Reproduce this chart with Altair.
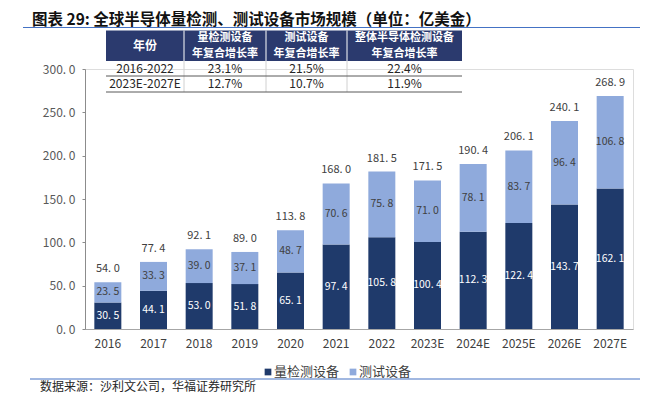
import altair as alt
import pandas as pd

# ---------------- data ----------------
years = ["2016", "2017", "2018", "2019", "2020", "2021", "2022",
         "2023E", "2024E", "2025E", "2026E", "2027E"]
inspection = [30.5, 44.1, 53.0, 51.8, 65.1, 97.4, 105.8, 100.4, 112.3, 122.4, 143.7, 162.1]
testing = [23.5, 33.3, 39.0, 37.1, 48.7, 70.6, 75.8, 71.0, 78.1, 83.7, 96.4, 106.8]
totals = [54.0, 77.4, 92.1, 89.0, 113.8, 168.0, 181.5, 171.5, 190.4, 206.1, 240.1, 268.9]
series_names = ["量检测设备", "测试设备"]
y_ticks = [0, 50, 100, 150, 200, 250, 300]

title_text = "图表 29:  全球半导体量检测、测试设备市场规模（单位：亿美金）"
source_text = "数据来源：沙利文公司，华福证券研究所"
table_header = [["年份"], ["量检测设备", "年复合增长率"], ["测试设备", "年复合增长率"],
                ["整体半导体检测设备", "年复合增长率"]]
table_rows = [["2016-2022", "23.1%", "21.5%", "22.4%"],
              ["2023E-2027E", "12.7%", "10.7%", "11.9%"]]

# ---------------- styles / layout ----------------
DARK = "#1F3A6B"
LIGHT = "#8FAADC"
HEADER = "#2B3A6E"
BLUE_LINE = "#4472C4"
FONT = "Noto Sans CJK SC"
W, H = 548, 260
col_edges = [21, 99, 181, 262, 377]
tbl_top, hdr_bottom, row_bottoms = -38.5, -8, [7, 23]
row_centers = [-0.5, 15]
hdr_lines = [-31, -15.5]


def fmt(v):
    return f"{v:.1f}".replace(".", ". ")


rows = []
for yr, a, b, t in zip(years, inspection, testing, totals):
    rows.append(dict(year=yr, series=series_names[0], y0=0, y1=a, mid=a / 2, label=fmt(a)))
    rows.append(dict(year=yr, series=series_names[1], y0=a, y1=a + b, mid=a + b / 2, label=fmt(b)))
seg = pd.DataFrame(rows)
tot = pd.DataFrame(dict(year=years, top=[a + b for a, b in zip(inspection, testing)],
                        label=[fmt(t) for t in totals]))

xenc = alt.X("year:N", sort=years,
             scale=alt.Scale(paddingInner=0, paddingOuter=0),
             axis=alt.Axis(title=None, ticks=False, labelAngle=0, labelPadding=9,
                           labelFontSize=12, labelColor="#404040", labelFont=FONT,
                           domainColor="#a6a6a6"))
yscale = alt.Scale(domain=[0, 300], nice=False)

bars = alt.Chart(seg).mark_bar(size=27).encode(
    x=xenc,
    y=alt.Y("y1:Q", scale=yscale,
            axis=alt.Axis(values=y_ticks, title=None, grid=False, tickSize=3,
                          labelExpr="replace(format(datum.value, '.1f'), '.', '. ')",
                          labelFontSize=12, labelColor="#595959", labelFont=FONT,
                          labelPadding=7, domainColor="#8c8c8c", tickColor="#8c8c8c")),
    y2="y0",
    color=alt.Color("series:N", scale=alt.Scale(domain=series_names, range=[DARK, LIGHT]),
                    legend=None),
)

lab_dark = alt.Chart(seg).transform_filter(
    alt.datum.series == series_names[0]
).mark_text(fontSize=10.5, font=FONT, color="white", baseline="middle").encode(
    x=alt.X("year:N", sort=years), y=alt.Y("mid:Q", scale=yscale), text="label:N")

lab_light = alt.Chart(seg).transform_filter(
    alt.datum.series == series_names[1]
).mark_text(fontSize=10.5, font=FONT, color="#404040", baseline="middle").encode(
    x=alt.X("year:N", sort=years), y=alt.Y("mid:Q", scale=yscale), text="label:N")

lab_tot = alt.Chart(tot).mark_text(fontSize=11, font=FONT, color="#404040",
                                   baseline="middle", dy=-13).encode(
    x=alt.X("year:N", sort=years), y=alt.Y("top:Q", scale=yscale), text="label:N")

one = pd.DataFrame({"k": [0]})
layers = [bars, lab_dark, lab_light, lab_tot]


def txt(s, x, y, **kw):
    return alt.Chart(one).mark_text(font=FONT, baseline="middle", **kw).encode(
        x=alt.value(x), y=alt.value(y), text=alt.value(s))


def rule(x1, x2, y1, y2, color, width=1):
    return alt.Chart(one).mark_rule(color=color, strokeWidth=width).encode(
        x=alt.value(x1), x2=alt.value(x2), y=alt.value(y1), y2=alt.value(y2))


# title and top line
layers.append(txt(title_text, -53, -49.5, fontSize=15.5, fontWeight="bold", color="#111111", align="left"))
layers.append(rule(-62, 555, -41.5, -41.5, BLUE_LINE, 1.2))

# table
layers.append(alt.Chart(one).mark_rect(color=HEADER).encode(
    x=alt.value(col_edges[0]), x2=alt.value(col_edges[-1]),
    y=alt.value(tbl_top), y2=alt.value(hdr_bottom)))
for xe in col_edges[1:-1]:
    layers.append(rule(xe, xe, tbl_top, hdr_bottom, "white", 1))
    layers.append(rule(xe, xe, hdr_bottom, row_bottoms[-1], "#d0d0d0", 1))
for yb in row_bottoms:
    layers.append(rule(col_edges[0], col_edges[-1], yb, yb, "#595959", 1))
for i, h in enumerate(table_header):
    cx = (col_edges[i] + col_edges[i + 1]) / 2
    if len(h) == 1:
        layers.append(txt(h[0], cx, (tbl_top + hdr_bottom) / 2, fontSize=12, fontWeight="bold",
                          color="white", align="center"))
    else:
        for line, yy in zip(h, hdr_lines):
            layers.append(txt(line, cx, yy, fontSize=11, fontWeight="bold",
                              color="white", align="center"))
for r, row in enumerate(table_rows):
    for i, cell in enumerate(row):
        cx = (col_edges[i] + col_edges[i + 1]) / 2
        layers.append(txt(cell, cx, row_centers[r], fontSize=12, color="#262626", align="center"))

# legend
layers.append(alt.Chart(one).mark_square(size=45, color=DARK, opacity=1).encode(
    x=alt.value(183), y=alt.value(303)))
layers.append(txt(series_names[0], 189, 303, fontSize=13, color="#404040", align="left"))
layers.append(alt.Chart(one).mark_square(size=45, color=LIGHT, opacity=1).encode(
    x=alt.value(268), y=alt.value(303)))
layers.append(txt(series_names[1], 274, 303, fontSize=13, color="#404040", align="left"))

# bottom line and source
layers.append(rule(-55, 555, 310, 310, BLUE_LINE, 1.2))
layers.append(txt(source_text, -45, 318, fontSize=12, color="#262626", align="left"))

chart = alt.layer(*layers).properties(
    width=W, height=H,
    padding={"left": 77, "top": 61, "right": 21, "bottom": 67},
    autosize=alt.AutoSizeParams(type="none"),
).configure_view(stroke=None).configure(background="white")

chart.save("out.html", embed_options={"renderer": "svg", "actions": False})
